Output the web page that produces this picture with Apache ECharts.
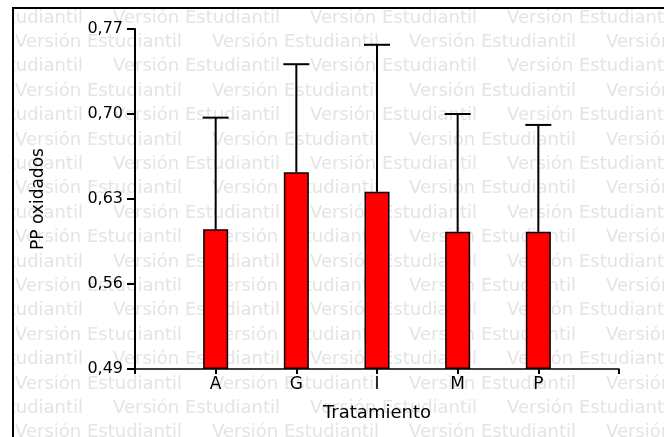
<!DOCTYPE html>
<html>
<head>
<meta charset="utf-8">
<script src="https://cdn.jsdelivr.net/npm/echarts@6/dist/echarts.min.js"></script>
<style>
html,body{margin:0;padding:0;background:#fff;}
#chart{width:664px;height:437px;}
</style>
</head>
<body>
<div id="chart"></div>
<script>
// ---- data ----
const categories = ['A', 'G', 'I', 'M', 'P'];
const means = [0.605, 0.652, 0.636, 0.603, 0.603];
const errors = [0.092, 0.089, 0.121, 0.097, 0.088];
const yTicks = [0.49, 0.56, 0.63, 0.70, 0.77];
const yTitle = 'PP oxidados';
const xTitle = 'Tratamiento';
const watermarkText = 'Versión Estudiantil';

// ---- build ----
const axisCats = [''].concat(categories, ['']);
const barData = [null].concat(means, [null]);
const errData = categories.map((c, i) => [i + 1, means[i], means[i] + errors[i]]);

// watermark (decoration)
const wm = [];
for (let r = 0; r < 19; r++) {
  const y = 18 + r * 24.4;
  let x = (r % 2 === 0) ? -84 : 15;
  for (; x < 664; x += 197) {
    wm.push({
      type: 'text', x: x, y: y, z: -10, silent: true,
      style: { text: watermarkText, fill: '#e4e4e4', font: '18px "DejaVu Sans"', verticalAlign: 'middle', align: 'left' }
    });
  }
}
wm.push({ type: 'rect', z: -5, silent: true, shape: { x: 0, y: 0, width: 12, height: 437 }, style: { fill: '#fff' } });
wm.push({ type: 'rect', z: -5, silent: true, shape: { x: 0, y: 0, width: 664, height: 6 }, style: { fill: '#fff' } });
wm.push({ type: 'rect', z: 50, silent: true, shape: { x: 13, y: 8, width: 700, height: 500 }, style: { fill: 'none', stroke: '#000', lineWidth: 2 } });

const chart = echarts.init(document.getElementById('chart'));
chart.setOption({
  animation: false,
  backgroundColor: '#fff',
  graphic: { elements: wm },
  grid: { left: 135, top: 29, width: 484, height: 340, containLabel: false },
  xAxis: {
    type: 'category',
    data: axisCats,
    boundaryGap: false,
    name: xTitle,
    nameLocation: 'middle',
    nameGap: 35,
    nameTextStyle: { fontFamily: 'DejaVu Sans', fontSize: 18, color: '#000' },
    axisLine: { lineStyle: { color: '#000', width: 1.5 } },
    axisTick: { show: true, interval: 0, length: 5, lineStyle: { color: '#000', width: 2 } },
    axisLabel: { interval: 0, margin: 7, fontFamily: 'DejaVu Sans', fontSize: 17, color: '#000' },
    splitLine: { show: false }
  },
  yAxis: {
    type: 'value',
    min: yTicks[0],
    max: yTicks[yTicks.length - 1],
    interval: 0.07,
    startValue: yTicks[0],
    name: yTitle,
    nameLocation: 'middle',
    nameGap: 88,
    nameTextStyle: { fontFamily: 'DejaVu Sans', fontSize: 17, color: '#000' },
    axisLine: { show: true, lineStyle: { color: '#000', width: 2 } },
    axisTick: { show: true, length: 8, lineStyle: { color: '#000', width: 2 } },
    axisLabel: {
      margin: 12, fontFamily: 'DejaVu Sans', fontSize: 16, color: '#000',
      formatter: v => v.toFixed(2).replace('.', ',')
    },
    splitLine: { show: false }
  },
  series: [
    {
      type: 'bar',
      data: barData,
      barWidth: 25,
      itemStyle: { color: '#ff0000', borderColor: '#000', borderWidth: 1.5 },
      z: 3
    },
    {
      type: 'custom',
      data: errData,
      z: 4,
      renderItem: function (params, api) {
        const x = api.value(0);
        const p0 = api.coord([x, api.value(1)]);
        const p1 = api.coord([x, api.value(2)]);
        return {
          type: 'group',
          children: [
            { type: 'line', shape: { x1: p0[0], y1: p0[1], x2: p1[0], y2: p1[1] }, style: { stroke: '#000', lineWidth: 2 } },
            { type: 'line', shape: { x1: p1[0] - 13, y1: p1[1], x2: p1[0] + 13, y2: p1[1] }, style: { stroke: '#000', lineWidth: 2 } }
          ]
        };
      }
    }
  ]
});
</script>
</body>
</html>
